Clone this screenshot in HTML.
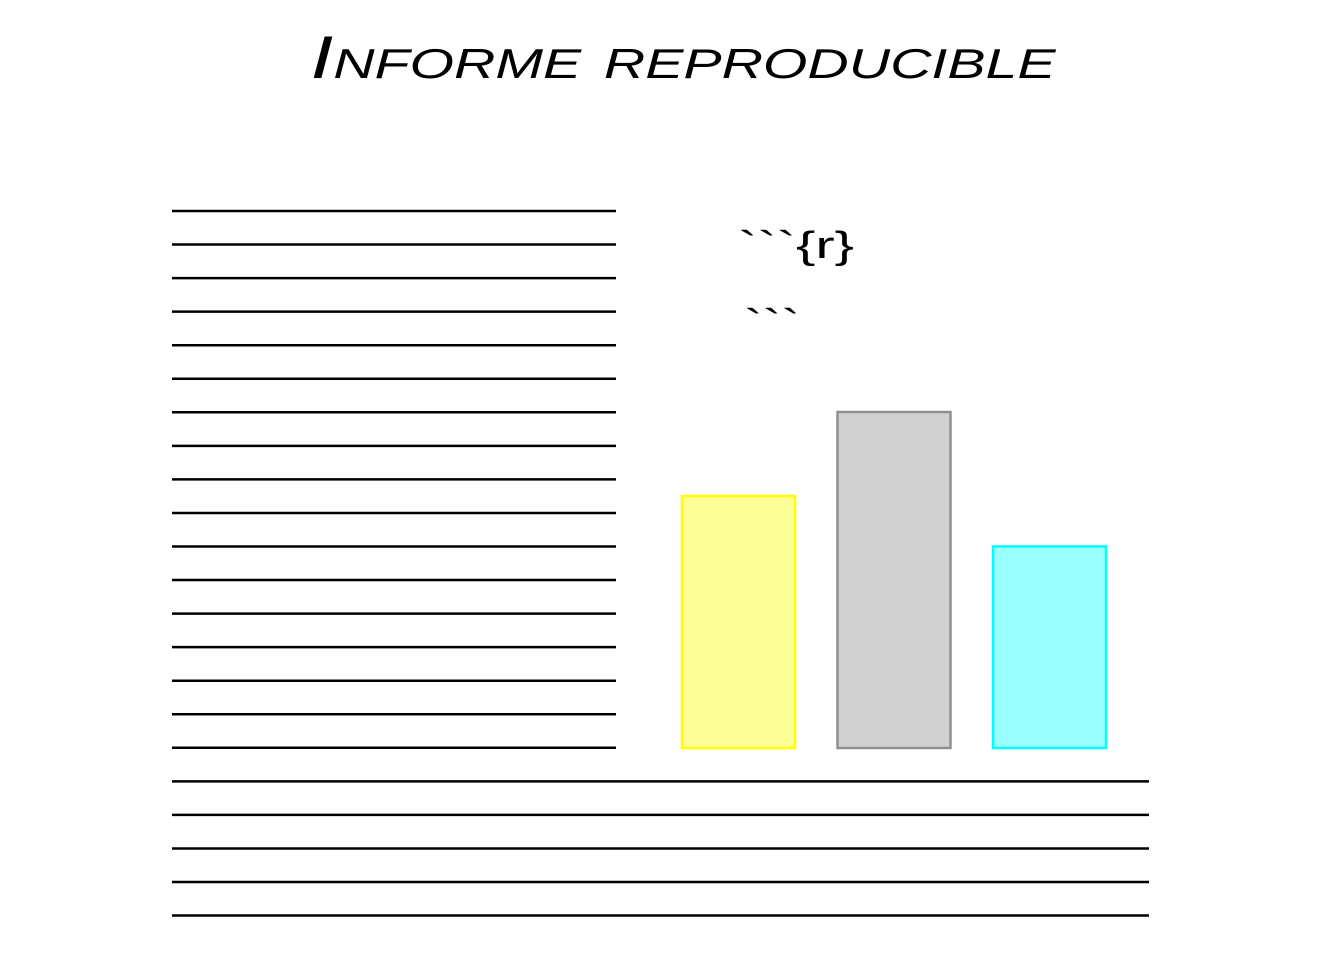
<!DOCTYPE html>
<html><head><meta charset="utf-8"><style>
html,body{margin:0;padding:0;background:#fff;}
svg{display:block;}
</style></head><body>
<svg id="chart" width="1344" height="960" viewBox="0 0 1344 960" xmlns="http://www.w3.org/2000/svg">
<text x="683" y="78" text-anchor="middle" textLength="745" lengthAdjust="spacingAndGlyphs" font-family="Liberation Sans, sans-serif" font-size="60" font-style="italic" style="font-variant:small-caps" fill="#000">Informe reproducible</text>
<text x="738" y="258" textLength="116" lengthAdjust="spacingAndGlyphs" font-family="Liberation Sans, sans-serif" font-size="38" fill="#000">&#96;&#96;&#96;{r}</text>
<text x="744" y="336" textLength="56" lengthAdjust="spacingAndGlyphs" font-family="Liberation Sans, sans-serif" font-size="38" fill="#000">&#96;&#96;&#96;</text>
<g id="lines"></g>
<g id="bars"></g>
</svg>
<script>
const categories = ["A", "B", "C"];
const values = [3, 4, 2.4];
const fills = ["#ffff99", "#d0d0d0", "#99ffff"];
const strokes = ["#ffff00", "#909090", "#00ffff"];
const shortLineCount = 17;
const longLineCount = 5;

const svgNS = "http://www.w3.org/2000/svg";
const baseY = 748, unit = 84;
const y = v => baseY - v * unit;
const x = i => 682 + i * 155.5;
const barW = 113;

const lg = document.getElementById("lines");
for (let i = 0; i < shortLineCount + longLineCount; i++) {
  const l = document.createElementNS(svgNS, "line");
  const yy = 211 + i * 33.55;
  l.setAttribute("x1", 172);
  l.setAttribute("x2", i < shortLineCount ? 616 : 1149);
  l.setAttribute("y1", yy);
  l.setAttribute("y2", yy);
  l.setAttribute("stroke", "#000");
  l.setAttribute("stroke-width", "2.5");
  
  
  lg.appendChild(l);
}
const bg = document.getElementById("bars");
categories.forEach((c, i) => {
  const r = document.createElementNS(svgNS, "rect");
  r.setAttribute("x", x(i));
  r.setAttribute("y", y(values[i]));
  r.setAttribute("width", barW);
  r.setAttribute("height", baseY - y(values[i]));
  r.setAttribute("fill", fills[i]);
  r.setAttribute("stroke", strokes[i]);
  r.setAttribute("stroke-width", "2.5");
  
  
  bg.appendChild(r);
});
</script>
</body></html>
